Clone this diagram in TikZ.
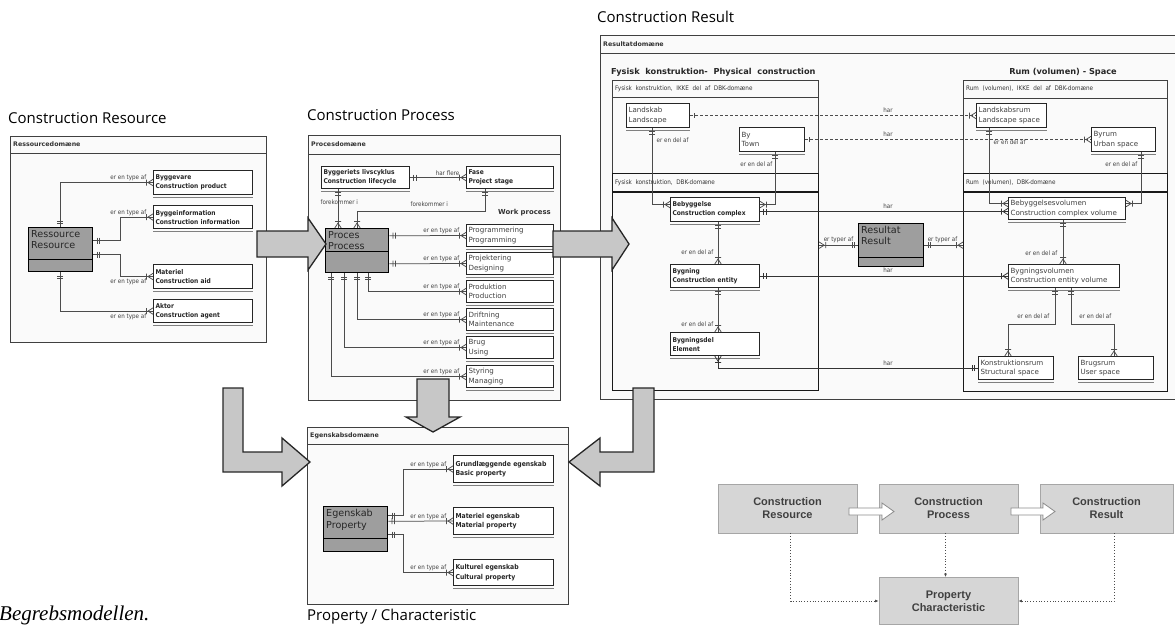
\documentclass[tikz,border=0pt]{standalone}
\usepackage{fontspec}
\setmainfont{DejaVu Sans}
\newfontfamily\cnd{DejaVu Sans Condensed}
\newfontfamily\osans{Open Sans}
\newfontfamily\lsans{Liberation Sans}
\newfontfamily\lserif{Liberation Serif}
\usetikzlibrary{arrows.meta}
\pgfarrowsdeclare{erone}{erone}{\pgfarrowsleftextend{-7pt}\pgfarrowsrightextend{0pt}}{%
  \pgfsetdash{}{0pt}\pgfsetbuttcap
  \pgfpathmoveto{\pgfqpoint{-3.5pt}{-3pt}}\pgfpathlineto{\pgfqpoint{-3.5pt}{3pt}}%
  \pgfpathmoveto{\pgfqpoint{-6pt}{-3pt}}\pgfpathlineto{\pgfqpoint{-6pt}{3pt}}%
  \pgfusepathqstroke}
\pgfarrowsdeclare{ercrow}{ercrow}{\pgfarrowsleftextend{-8pt}\pgfarrowsrightextend{0pt}}{%
  \pgfsetdash{}{0pt}\pgfsetbuttcap
  \pgfpathmoveto{\pgfqpoint{0pt}{3.2pt}}\pgfpathlineto{\pgfqpoint{-5pt}{0pt}}\pgfpathlineto{\pgfqpoint{0pt}{-3.2pt}}%
  \pgfpathmoveto{\pgfqpoint{-6.5pt}{-3pt}}\pgfpathlineto{\pgfqpoint{-6.5pt}{3pt}}%
  \pgfusepathqstroke}
\pgfarrowsdeclare{erbar}{erbar}{\pgfarrowsleftextend{-6pt}\pgfarrowsrightextend{0pt}}{%
  \pgfsetdash{}{0pt}\pgfsetbuttcap
  \pgfpathmoveto{\pgfqpoint{-4pt}{-2.5pt}}\pgfpathlineto{\pgfqpoint{-4pt}{2.5pt}}%
  \pgfusepathqstroke}
\newcommand\erbx[7][]{%
  \pgfmathsetmacro\erbtw{#5-4}%
  \node[erbox,#1,minimum width=#5pt,minimum height=#6pt,text width=\erbtw pt] (#2) at (#3,#4) {#7};
  \draw[shadowln] ([yshift=-2.5pt]#2.south west) -- ([yshift=-2.5pt]#2.south east);}
\newcommand\entbx[7]{%
  \node[entbox,minimum width=#4pt,minimum height=#5pt] (#1) at (#2,#3) {};
  \draw[black,line width=1.1pt] ([yshift=#6pt]#1.south west) -- ([yshift=#6pt]#1.south east);
  \node[enttext] (#1-t) at ([xshift=3pt,yshift=-3pt]#1.north west) {#7};}
\begin{document}
\begin{tikzpicture}[x=1pt,y=-1pt,
  panel/.style={draw=black!75,line width=0.9pt,fill=black!2},
  panelline/.style={draw=black!75,line width=0.9pt},
  subbox/.style={draw=black!75,line width=0.8pt,anchor=north west,inner sep=0pt},
  dbkbox/.style={draw=black!90,line width=1.2pt,anchor=north west,inner sep=0pt},
  hdr/.style={font=\bfseries\fontsize{6.3}{7}\selectfont,text=black!80,anchor=west,inner sep=0pt},
  subhdr/.style={font=\cnd\fontsize{6.3}{7}\selectfont,text=black!80,anchor=west,inner sep=0pt},
  erbox/.style={draw=black!85,line width=1.1pt,fill=white,anchor=north west,inner sep=1.5pt,align=left,font=\cnd\bfseries\fontsize{6.6}{9}\selectfont,text=black!85},
  regtxt/.style={font=\fontsize{7.1}{9.5}\selectfont,text=black!75},
  proptxt/.style={font=\cnd\bfseries\fontsize{6.8}{9.5}\selectfont},
  shadowln/.style={draw=black!50,line width=0.8pt},
  entbox/.style={draw=black,line width=1.4pt,fill=black!38,anchor=north west,inner sep=0pt},
  enttext/.style={anchor=north west,inner sep=0pt,align=left,font=\fontsize{9.6}{11.5}\selectfont,text=black!85},
  conn/.style={draw=black!70,line width=0.75pt},
  harln/.style={draw=black!80,line width=0.75pt},
  dashconn/.style={draw=black!70,line width=0.75pt,dash pattern=on 3pt off 2pt},
  lbl/.style={font=\cnd\fontsize{6.2}{7}\selectfont,text=black!75,inner sep=0.5pt},
  blockarrow/.style={fill=black!22,draw=black!85,line width=1.3pt,line join=miter},
  ttl/.style={font=\osans\fontsize{15}{17}\selectfont,anchor=base west,inner sep=0pt},
  bigttl/.style={font=\bfseries\fontsize{8.2}{10}\selectfont,text=black!85,inner sep=0pt},
  flowbox/.style={draw=black!35,fill=black!16,line width=0.8pt,font=\lsans\bfseries\fontsize{11}{13}\selectfont,text=black!75,align=center,inner sep=0pt},
  dotconn/.style={draw=black!70,dotted,line width=0.8pt,-{Latex[length=3.5pt,width=3pt]}},
  whitearrow/.style={fill=white,draw=black!45,line width=0.8pt,line join=miter}]
\useasboundingbox (0,0) rectangle (1175,624);

% ---------- titles
\node[ttl] (tRes) at (8,123) {Construction Resource};
\node[ttl] (tProc) at (307,120) {Construction Process};
\node[ttl] (tResu) at (597,22) {Construction Result};
\node[ttl] (tProp) at (307,620) {Property / Characteristic};

% ---------- panels
\draw[panel] (10,136) rectangle (266,342);
\draw[panelline] (10,153) -- (266,153);
\node[hdr] (hRes) at (13,144.5) {Ressourcedomæne};

\draw[panel] (308,135) rectangle (560,400);
\draw[panelline] (308,154) -- (560,154);
\node[hdr] (hProc) at (311,144.5) {Procesdomæne};

\draw[panel] (307,427) rectangle (568,604);
\draw[panelline] (307,444) -- (568,444);
\node[hdr] (hProp) at (310,435.5) {Egenskabsdomæne};

\draw[panel] (600,35) rectangle (1180,399);
\draw[panelline] (600,53) -- (1180,53);
\node[hdr] (hResu) at (603,44) {Resultatdomæne};

% result sub-panels
\node[bigttl,anchor=west] (tPhys) at (611,72) {Fysisk\ \ konstruktion-\ \ Physical\ \ construction};
\node[subbox,minimum width=206pt,minimum height=310pt] (physikke) at (612,80) {};
\draw[subbox] (612,97) -- (818,97);
\node[subhdr] (hPhys1) at (615,88.5) {Fysisk\ \ konstruktion,\ \ IKKE\ \ del\ \ af\ \ DBK-domæne};
\node[dbkbox,minimum width=206pt,minimum height=217pt] (physdbk) at (612,173) {};
\draw[dbkbox] (612,192) -- (818,192);
\node[subhdr] (hPhys2) at (615,182.5) {Fysisk\ \ konstruktion,\ \ DBK-domæne};

\node[bigttl,anchor=center] (tSpace) at (1063,72) {Rum (volumen) - Space};
\node[subbox,minimum width=204pt,minimum height=311pt] (spaceikke) at (963,80) {};
\draw[subbox] (963,98) -- (1167,98);
\node[subhdr] (hSp1) at (966,89) {Rum\ \ (volumen),\ \ IKKE\ \ del\ \ af\ \ DBK-domæne};
\node[dbkbox,minimum width=204pt,minimum height=218pt] (spacedbk) at (963,173) {};
\draw[dbkbox] (963,192) -- (1167,192);
\node[subhdr] (hSp2) at (966,182.5) {Rum\ \ (volumen),\ \ DBK-domæne};

% ---------- Resource domain
\entbx{res}{28}{227}{64}{44}{13}{Ressource\\Resource}
\erbx{byg}{153}{170}{99}{24}{Byggevare\\Construction product}
\erbx{info}{153}{205}{99}{23}{Byggeinformation\\Construction information}
\erbx{mat}{153}{264}{99}{24}{Materiel\\Construction aid}
\erbx{akt}{153}{299}{99}{23}{Aktor\\Construction agent}
\draw[conn,erone-ercrow] ([xshift=32pt]res.north west) |- (byg.west);
\draw[conn,erone-ercrow] ([yshift=9pt]res.east) -- ++(27,0) |- (info.west);
\draw[conn,erone-ercrow] ([yshift=-5pt]res.east) -- ++(27,0) |- (mat.west);
\draw[conn,erone-ercrow] ([xshift=32pt]res.south west) |- (akt.west);
\node[lbl,anchor=south east] (lr1) at ([xshift=-6pt,yshift=1pt]byg.west) {er en type af};
\node[lbl,anchor=south east] (lr2) at ([xshift=-6pt,yshift=1pt]info.west) {er en type af};
\node[lbl,anchor=north east] (lr3) at ([xshift=-6pt,yshift=-2pt]mat.west) {er en type af};
\node[lbl,anchor=north east] (lr4) at ([xshift=-6pt,yshift=-2pt]akt.west) {er en type af};

% ---------- Process domain
\erbx{livs}{321}{166}{88}{22}{Byggeriets livscyklus\\Construction lifecycle}
\erbx{fase}{466}{166}{87}{22}{Fase\\Project stage}
\entbx{proc}{325}{228}{63}{44}{22}{Proces\\Process}
\erbx[regtxt]{prog}{466}{224}{87}{22}{Programmering\\Programming}
\erbx[regtxt]{proj}{466}{252}{87}{22}{Projektering\\Designing}
\erbx[regtxt]{prod}{466}{280}{87}{22}{Produktion\\Production}
\erbx[regtxt]{drift}{466}{308}{87}{22}{Driftning\\Maintenance}
\erbx[regtxt]{brug}{466}{336}{87}{22}{Brug\\Using}
\erbx[regtxt]{styr}{466}{365}{87}{22}{Styring\\Managing}
\node[anchor=east,inner sep=0pt,font=\bfseries\fontsize{6.9}{8}\selectfont,text=black!80] (wp) at (551,213) {Work process};
\draw[conn,erone-ercrow] (livs.east) -- (fase.west);
\draw[conn,erone-ercrow] ([xshift=17pt]livs.south west) -- ([xshift=13pt]proc.north west);
\draw[conn,erone-ercrow] ([xshift=19pt]fase.south west) -- ++(0,22) -| ([xshift=32pt]proc.north west);
\draw[conn,erone-ercrow] ([yshift=15pt]proc.east) -- (prog.west);
\draw[conn,erone-ercrow] ([yshift=-13pt]proc.east) -- (proj.west);
\draw[conn,erone-ercrow] ([xshift=43pt]proc.south west) |- (prod.west);
\draw[conn,erone-ercrow] ([xshift=32pt]proc.south west) |- (drift.west);
\draw[conn,erone-ercrow] ([xshift=19pt]proc.south west) |- (brug.west);
\draw[conn,erone-ercrow] ([xshift=6pt]proc.south west) |- (styr.west);
\node[lbl,anchor=south east] (lp0) at ([xshift=-6pt,yshift=1pt]fase.west) {har flere};
\node[lbl,anchor=west] (lp1) at (320,202) {forekommer i};
\node[lbl,anchor=west] (lp2) at (410,204) {forekommer i};
\node[lbl,anchor=south east] (lp3) at ([xshift=-6pt,yshift=1pt]prog.west) {er en type af};
\node[lbl,anchor=south east] (lp4) at ([xshift=-6pt,yshift=1pt]proj.west) {er en type af};
\node[lbl,anchor=south east] (lp5) at ([xshift=-6pt,yshift=1pt]prod.west) {er en type af};
\node[lbl,anchor=south east] (lp6) at ([xshift=-6pt,yshift=1pt]drift.west) {er en type af};
\node[lbl,anchor=south east] (lp7) at ([xshift=-6pt,yshift=1pt]brug.west) {er en type af};
\node[lbl,anchor=south east] (lp8) at ([xshift=-6pt,yshift=1pt]styr.west) {er en type af};

% ---------- Property domain
\entbx{egen}{323}{506}{64}{45}{14}{Egenskab\\Property}
\erbx[proptxt]{grund}{453}{455}{100}{27}{Grundlæggende egenskab\\Basic property}
\erbx[proptxt]{matp}{453}{507}{100}{27}{Materiel egenskab\\Material property}
\erbx[proptxt]{kult}{453}{559}{100}{26}{Kulturel egenskab\\Cultural property}
\draw[conn,erone-ercrow] ([yshift=13.5pt]egen.east) -- ++(15,0) |- (grund.west);
\draw[conn,erone-ercrow] ([yshift=8pt]egen.east) -- (matp.west);
\draw[conn,erone-ercrow] ([yshift=-5.5pt]egen.east) -- ++(15,0) |- (kult.west);
\node[lbl,anchor=south east] (le1) at ([xshift=-6pt,yshift=1pt]grund.west) {er en type af};
\node[lbl,anchor=south east] (le2) at ([xshift=-6pt,yshift=1pt]matp.west) {er en type af};
\node[lbl,anchor=south east] (le3) at ([xshift=-6pt,yshift=1pt]kult.west) {er en type af};

% ---------- Result domain
\erbx[regtxt]{land}{626}{103}{63}{24}{Landskab\\Landscape}
\erbx[regtxt]{by}{739}{127}{65}{24}{By\\Town}
\erbx[regtxt]{lrum}{976}{103}{70}{24}{Landskabsrum\\Landscape space}
\erbx[regtxt]{byrum}{1091}{127}{64}{24}{Byrum\\Urban space}
\erbx{bebyg}{670}{197}{89}{24}{Bebyggelse\\Construction complex}
\erbx[regtxt]{bvol}{1008}{197}{117}{22}{Bebyggelsesvolumen\\Construction complex volume}
\erbx{bygn}{670}{264}{89}{23}{Bygning\\Construction entity}
\erbx[regtxt]{bgvol}{1008}{264}{111}{23}{Bygningsvolumen\\Construction entity volume}
\erbx{bdel}{670}{332}{89}{23}{Bygningsdel\\Element}
\erbx[regtxt]{krum}{978}{356}{75}{23}{Konstruktionsrum\\Structural space}
\erbx[regtxt]{brum}{1078}{356}{75}{23}{Brugsrum\\User space}
\entbx{result}{858}{223}{65}{43}{10}{Resultat\\Result}

\draw[dashconn,erbar-ercrow] (land.east) -- (lrum.west);
\draw[dashconn,erbar-ercrow] (by.east) -- (byrum.west);
\draw[conn,erone-ercrow] ([xshift=26pt]land.south west) |- ([yshift=5pt]bebyg.west);
\draw[conn,erone-ercrow] ([xshift=36pt]by.south west) |- ([yshift=5pt]bebyg.east);
\coordinate (h1) at ([yshift=-2pt]bebyg.east);
\draw[harln,erone-ercrow] (h1) -- (h1 -| bvol.west);
\draw[conn,erone-ercrow] ([xshift=13pt]lrum.south west) |- ([yshift=5pt]bvol.west);
\draw[conn,erone-ercrow] ([xshift=50pt]byrum.south west) |- ([yshift=5pt]bvol.east);
\draw[conn,erone-ercrow] ([xshift=48pt]bebyg.south west) -- ([xshift=48pt]bygn.north west);
\draw[conn,erone-ercrow] ([xshift=48pt]bygn.south west) -- ([xshift=48pt]bdel.north west);
\draw[harln,erone-ercrow] (bygn.east) -- (bgvol.west);
\draw[harln,ercrow-erone] ([xshift=48pt]bdel.south west) |- (krum.west);
\draw[conn,erone-ercrow] ([xshift=55pt]bvol.south west) -- ([xshift=55pt]bgvol.north west);
\draw[conn,erone-ercrow] ([xshift=47pt]bgvol.south west) -- ++(0,36) -| ([xshift=30pt]krum.north west);
\draw[conn,erone-ercrow] ([xshift=63pt]bgvol.south west) -- ++(0,36) -| ([xshift=36pt]brum.north west);
\draw[conn,erone-ercrow] (result.west) -- (result.west -| physdbk.east);
\draw[conn,erone-ercrow] (result.east) -- (result.east -| spacedbk.west);

\node[lbl] (lh1) at (888,110) {har};
\node[lbl] (lh2) at (888,134) {har};
\node[lbl] (lh3) at (888,206) {har};
\node[lbl] (lh4) at (888,270) {har};
\node[lbl] (lh5) at (888,363) {har};
\node[lbl] (lt1) at (838.5,240) {er typer af};
\node[lbl] (lt2) at (942.5,240) {er typer af};
\node[lbl,anchor=west] (ld1) at (656,140) {er en del af};
\node[lbl,anchor=east] (ld2) at (773,164) {er en del af};
\node[lbl,anchor=east] (ld3) at (714,252) {er en del af};
\node[lbl,anchor=east] (ld4) at (714,324) {er en del af};
\node[lbl,anchor=west] (ld5) at (993,142) {er en del af};
\node[lbl,anchor=east] (ld6) at (1138,164) {er en del af};
\node[lbl,anchor=east] (ld7) at (1058,253) {er en del af};
\node[lbl,anchor=east] (ld8) at (1050,316) {er en del af};
\node[lbl,anchor=east] (ld9) at (1112,316) {er en del af};

% ---------- big block arrows
\draw[blockarrow] (257,231) -- (308,231) -- (308,218) -- (326,244) -- (308,270) -- (308,257) -- (257,257) -- cycle;
\draw[blockarrow] (553,231) -- (612,231) -- (612,218) -- (629,244) -- (612,270) -- (612,257) -- (553,257) -- cycle;
\draw[blockarrow] (417,379) -- (449,379) -- (449,417) -- (460,417) -- (433,432) -- (406,417) -- (417,417) -- cycle;
\draw[blockarrow] (223,388) -- (243,388) -- (243,452) -- (282,452) -- (282,438) -- (310,462) -- (282,486) -- (282,472) -- (223,472) -- cycle;
\draw[blockarrow] (654,388) -- (633,388) -- (633,452) -- (600,452) -- (600,438) -- (569,462) -- (600,486) -- (600,472) -- (654,472) -- cycle;

% ---------- overview flow
\node[flowbox,minimum width=139pt,minimum height=49pt] (fres) at (787.5,508.5) {Construction\\Resource};
\node[flowbox,minimum width=139pt,minimum height=49pt] (fproc) at (948.5,508.5) {Construction\\Process};
\node[flowbox,minimum width=133pt,minimum height=49pt] (fresu) at (1106.5,508.5) {Construction\\Result};
\node[flowbox,minimum width=139pt,minimum height=47pt] (fprop) at (948.5,601) {Property\\Characteristic};
\draw[whitearrow] (849,508) -- (882,508) -- (882,503) -- (894,511.5) -- (882,520) -- (882,515) -- (849,515) -- cycle;
\draw[whitearrow] (1011,508) -- (1043,508) -- (1043,503) -- (1055,511.5) -- (1043,520) -- (1043,515) -- (1011,515) -- cycle;
\draw[dotconn] ([xshift=3pt]fres.south) |- (fprop.west);
\draw[dotconn] ([xshift=-3pt]fproc.south) -- ([xshift=-3pt]fprop.north);
\draw[dotconn] ([xshift=8pt]fresu.south) |- (fprop.east);

% ---------- caption
\node[anchor=base west,inner sep=0pt,font=\lserif\itshape\fontsize{21}{23}\selectfont] (cap) at (-1,620) {Begrebsmodellen.};
\end{tikzpicture}
\end{document}
